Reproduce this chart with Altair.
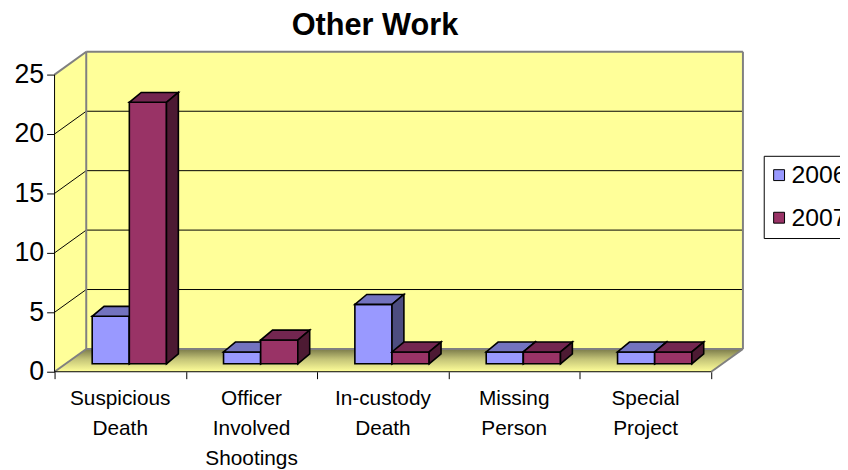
import altair as alt
import pandas as pd

# ---------------- data ----------------
categories = ["Suspicious\nDeath", "Officer\nInvolved\nShootings", "In-custody\nDeath",
              "Missing\nPerson", "Special\nProject"]
series = ["2006", "2007"]
values_2006 = [4, 1, 5, 1, 1]
values_2007 = [22, 2, 1, 1, 1]
y_ticks = [0, 5, 10, 15, 20, 25]
title_text = "Other Work"

# ---------------- geometry (in data units) ----------------
N = len(categories)
Y_MAX = y_ticks[-1]
DX, DY = 0.2413, 1.917      # depth of the walls
BX0, BW = 0.2866, 0.2828    # first bar offset in a category, bar width
FDY = 0.667                 # bar front-face height above front floor edge
BDX, BDY = 0.0905, 0.833    # bar depth

FONT = "Liberation Sans"
fill_keys = ["2006", "2007", "2006 top", "2006 side", "2007 top", "2007 side"]
fill_colors = ["#9999FF", "#993366", "#7373BF", "#4D4D80", "#732650", "#4D1A33"]

X_SCALE = alt.Scale(domain=[0, N + DX], nice=False, zero=False)
Y_SCALE = alt.Scale(domain=[0, Y_MAX + DY], nice=False, zero=False)
X_AXIS = alt.Axis(values=list(range(N + 1)), labels=False, domain=False, grid=False,
                  ticks=True, tickColor="black", tickSize=7, tickWidth=1, title=None)
Y_AXIS = alt.Axis(values=y_ticks, domain=False, grid=False, ticks=True, tickColor="black",
                  tickSize=8, tickWidth=1, labelFontSize=27, labelFont=FONT,
                  labelColor="black", labelPadding=3, title=None)


def X(f="x"):
    return alt.X(f"{f}:Q", scale=X_SCALE, axis=X_AXIS)


def Y(f="y"):
    return alt.Y(f"{f}:Q", scale=Y_SCALE, axis=Y_AXIS)


# ---------------- walls and floor ----------------
back_wall = pd.DataFrame([{"x": DX, "x2": N + DX, "y": DY, "y2": Y_MAX + DY}])
left_wall = pd.DataFrame([{"x": 0, "y": 0, "y2": Y_MAX, "f": "w"},
                          {"x": DX, "y": DY, "y2": Y_MAX + DY, "f": "w"}])
floor = pd.DataFrame([{"x": 0, "y": 0, "y2": 0, "f": "fl"},
                      {"x": DX, "y": 0, "y2": DY, "f": "fl"},
                      {"x": N, "y": 0, "y2": DY, "f": "fl"},
                      {"x": N + DX, "y": DY, "y2": DY, "f": "fl"}])

grid_rows = []
for t in y_ticks[1:-1]:
    grid_rows.append({"x": DX, "y": t + DY, "x2": N + DX, "y2": t + DY})
    grid_rows.append({"x": 0, "y": t, "x2": DX, "y2": t + DY})
grid = pd.DataFrame(grid_rows)

edges = pd.DataFrame([
    {"x": DX, "y": Y_MAX + DY, "x2": N + DX, "y2": Y_MAX + DY},
    {"x": N + DX, "y": DY, "x2": N + DX, "y2": Y_MAX + DY},
    {"x": DX, "y": DY, "x2": DX, "y2": Y_MAX + DY},
    {"x": 0, "y": Y_MAX, "x2": DX, "y2": Y_MAX + DY},
    {"x": 0, "y": 0, "x2": DX, "y2": DY},
    {"x": DX, "y": DY, "x2": N + DX, "y2": DY},
    {"x": N, "y": 0, "x2": N + DX, "y2": DY},
])
front_axes = pd.DataFrame([
    {"x": 0, "y": 0, "x2": 0, "y2": Y_MAX},
    {"x": 0, "y": 0, "x2": N, "y2": 0},
])

# ---------------- bars ----------------
def bar_rows(s_idx, values):
    s = series[s_idx]
    rows = []
    for i, v in enumerate(values):
        a = i + BX0 + s_idx * BW
        b = a + BW
        top = FDY + v
        fid = f"{s}-{i}"
        rows += [
            {"x": a, "y": FDY, "y2": top, "face": fid + "f", "key": s},
            {"x": b, "y": FDY, "y2": top, "face": fid + "f", "key": s},
        ]
        rows += [
            {"x": a, "y": top, "y2": top, "face": fid + "t", "key": s + " top"},
            {"x": a + BDX, "y": top, "y2": top + BDY, "face": fid + "t", "key": s + " top"},
            {"x": b, "y": top, "y2": top + BDY, "face": fid + "t", "key": s + " top"},
            {"x": b + BDX, "y": top + BDY, "y2": top + BDY, "face": fid + "t", "key": s + " top"},
        ]
        rows += [
            {"x": b, "y": FDY, "y2": top, "face": fid + "s", "key": s + " side"},
            {"x": b + BDX, "y": FDY + BDY, "y2": top + BDY, "face": fid + "s", "key": s + " side"},
        ]
    return pd.DataFrame(rows)


FILL = alt.Fill("key:N", scale=alt.Scale(domain=fill_keys, range=fill_colors),
                legend=alt.Legend(values=series, title=None, orient="none",
                                  legendX=716, legendY=105, symbolType="square",
                                  symbolSize=121, symbolStrokeColor="black",
                                  symbolStrokeWidth=1, symbolOffset=-4,
                                  labelFontSize=25, labelFont=FONT,
                                  labelColor="black", labelOffset=0, rowPadding=17,
                                  padding=7, strokeColor="black", fillColor="white"))

labels = pd.DataFrame({"x": [i + 0.5 for i in range(N)], "y": [0] * N, "label": categories})

# ---------------- layers ----------------
layers = [
    alt.Chart(back_wall).mark_rect(fill="#FFFF99").encode(x=X(), x2="x2:Q", y=Y(), y2="y2:Q"),
    alt.Chart(left_wall).mark_area(fill="#FFFF99").encode(x=X(), y=Y(), y2="y2:Q", detail="f:N"),
    alt.Chart(floor).mark_area(
        color=alt.Gradient(gradient="linear",
                           stops=[alt.GradientStop(color="#7A7A4A", offset=0),
                                  alt.GradientStop(color="#C4C478", offset=0.45),
                                  alt.GradientStop(color="#FFFF99", offset=1)],
                           x1=0, x2=0, y1=0, y2=1)
    ).encode(x=X(), y=Y(), y2="y2:Q", detail="f:N"),
    alt.Chart(grid).mark_rule(color="black", strokeWidth=1).encode(
        x=X(), y=Y(), x2="x2:Q", y2="y2:Q"),
    alt.Chart(edges).mark_rule(color="#808080", strokeWidth=2).encode(
        x=X(), y=Y(), x2="x2:Q", y2="y2:Q"),
    alt.Chart(front_axes).mark_rule(color="black", strokeWidth=1).encode(
        x=X(), y=Y(), x2="x2:Q", y2="y2:Q"),
    alt.Chart(bar_rows(0, values_2006)).mark_area(stroke="black", strokeWidth=1.6,
                                                  strokeJoin="miter", opacity=1).encode(
        x=X(), y=Y(), y2="y2:Q", detail="face:N", fill=FILL),
    alt.Chart(bar_rows(1, values_2007)).mark_area(stroke="black", strokeWidth=1.6,
                                                  strokeJoin="miter", opacity=1).encode(
        x=X(), y=Y(), y2="y2:Q", detail="face:N", fill=FILL),
    alt.Chart(labels).mark_text(font=FONT, fontSize=21, lineBreak="\n", lineHeight=30,
                                baseline="alphabetic", align="center", dy=34,
                                color="black").encode(x=X(), y=Y(), text="label:N"),
]

chart = alt.layer(*layers).properties(
    width=695, height=323,
    autosize=alt.AutoSizeParams(type="none"),
    padding={"left": 47, "top": 42, "right": 98, "bottom": 100},
    title=alt.Title(title_text, fontSize=31, font=FONT, fontWeight="bold", color="black",
                    anchor="middle", dx=-24, offset=9),
    background="white",
).configure_view(stroke=None)

chart.save("out.html", embed_options={"renderer": "svg", "actions": False})
